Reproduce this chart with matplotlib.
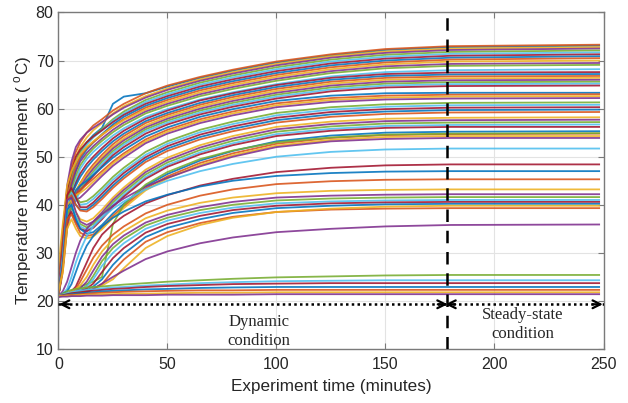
import matplotlib
matplotlib.use("Agg")
import matplotlib.pyplot as plt

# --- data (temperature in degC at each time, minutes) ---
time_min = [0, 2, 4, 6, 8, 10, 13, 16, 20, 25, 30, 40, 50, 65, 80, 100, 125, 150, 180, 248]

top_band = [
    [21, 30, 40, 46, 49, 51, 53, 54.5, 56, 61, 62.5, 63.2, 64.6, 66.4, 67.9, 69.6, 71.1, 72.2, 72.8, 73.1],
    [21, 33, 43, 48, 51, 53, 55, 56.5, 57.8, 59.6, 61, 63.2, 64.8, 66.6, 68.1, 69.8, 71.3, 72.4, 73.0, 73.3],
    [22, 32, 42, 47, 50, 52, 54, 55.5, 57, 59, 60.5, 62.6, 64.2, 66.1, 67.6, 69.3, 70.9, 71.9, 72.5, 72.8],
    [23, 34, 44, 49, 52, 53.5, 55, 56, 57.2, 58.8, 60.2, 62.3, 63.9, 65.8, 67.3, 69.0, 70.6, 71.6, 72.2, 72.5],
    [21, 30, 41, 46, 49, 51, 52.8, 54.2, 55.8, 57.8, 59.4, 61.8, 63.4, 65.4, 66.9, 68.6, 70.2, 71.2, 71.8, 72.1],
    [22, 31, 40, 45, 48, 50.5, 52.5, 54, 55.5, 57.5, 59, 61.4, 63, 65, 66.5, 68.2, 69.8, 70.8, 71.4, 71.7],
    [24, 35, 43, 47, 50, 51.5, 53, 54.2, 55.5, 57.2, 58.7, 61, 62.6, 64.6, 66.1, 67.8, 69.4, 70.4, 71.0, 71.3],
    [21, 29, 39, 44, 47, 49.5, 51.5, 53, 54.7, 56.7, 58.3, 60.6, 62.2, 64.2, 65.7, 67.4, 69.0, 70.0, 70.6, 70.9],
    [22, 32, 41, 45, 48, 50, 51.8, 53, 54.5, 56.3, 57.8, 60.2, 61.8, 63.8, 65.3, 67.0, 68.6, 69.6, 70.2, 70.5],
    [27, 36, 44, 47, 49, 50.5, 52, 53.2, 54.6, 56.2, 57.6, 59.8, 61.4, 63.4, 64.9, 66.6, 68.2, 69.2, 69.8, 70.0],
    [21, 30, 40, 44, 47, 49, 50.8, 52.2, 53.8, 55.6, 57.1, 59.4, 61.0, 63.0, 64.5, 66.2, 67.8, 68.8, 69.3, 69.5],
    [22, 31, 39, 43, 46, 48.2, 50.2, 51.7, 53.3, 55.1, 56.6, 59.0, 60.6, 62.6, 64.1, 65.8, 67.4, 68.4, 68.9, 69.1],
    [21, 29, 38, 42, 45, 47.5, 49.5, 51, 52.6, 54.4, 55.9, 58.3, 59.9, 61.9, 63.4, 65.1, 66.7, 67.6, 68.0, 68.2],
]

olive_band = [
    [21, 28, 37, 42, 44.5, 46.5, 48.5, 50, 51.8, 53.8, 55.4, 57.9, 59.6, 61.7, 63.2, 64.9, 66.4, 67.2, 67.5, 67.6],
    [22, 29, 38, 42, 44, 45.8, 47.8, 49.4, 51.2, 53.2, 54.8, 57.4, 59.1, 61.2, 62.8, 64.5, 66.0, 66.8, 67.1, 67.2],
    [21, 27, 36, 40, 42.5, 44.5, 46.7, 48.4, 50.4, 52.6, 54.3, 57.0, 58.7, 60.8, 62.4, 64.1, 65.6, 66.4, 66.7, 66.8],
    [23, 30, 38, 41, 43, 44.5, 46.3, 47.9, 49.9, 52.1, 53.8, 56.5, 58.3, 60.4, 62.0, 63.7, 65.2, 66.0, 66.3, 66.4],
    [21, 28, 36, 40, 42, 43.8, 45.8, 47.5, 49.5, 51.7, 53.4, 56.1, 57.9, 60.0, 61.6, 63.3, 64.8, 65.6, 65.9, 66.0],
    [22, 29, 37, 40, 41.5, 43.2, 45.2, 46.9, 49.0, 51.2, 52.9, 55.7, 57.5, 59.6, 61.2, 62.9, 64.4, 65.2, 65.5, 65.6],
    [21, 27, 35, 39, 41, 42.8, 44.8, 46.5, 48.5, 50.8, 52.5, 55.3, 57.1, 59.2, 60.8, 62.5, 64.0, 64.8, 65.1, 65.2],
    [21, 28, 37, 41, 42, 43, 44.5, 46, 48.0, 50.3, 52.0, 54.8, 56.7, 58.8, 60.4, 62.1, 63.6, 64.4, 64.7, 64.8],
]

red_band = [
    [21, 27, 36, 41, 43, 44, 45, 46.2, 47.8, 49.8, 51.4, 54.2, 56.1, 58.3, 59.9, 61.6, 62.7, 63.2, 63.3, 63.3],
    [21, 26, 35, 40, 42, 43, 44.2, 45.4, 47.0, 49.0, 50.7, 53.6, 55.6, 57.8, 59.4, 61.1, 62.2, 62.7, 62.9, 63.0],
    [22, 28, 37, 41, 42, 42.5, 43.5, 44.8, 46.5, 48.6, 50.3, 53.2, 55.2, 57.4, 59.0, 60.7, 61.8, 62.3, 62.5, 62.6],
    [21, 27, 36, 40, 41, 41.5, 42.8, 44.2, 46.0, 48.1, 49.8, 52.8, 54.8, 57.0, 58.6, 60.3, 61.4, 61.9, 62.1, 62.2],
]

gray_band = [
    [21, 30, 41, 43, 41.5, 40.5, 40.8, 41.8, 43.5, 45.8, 47.7, 51.0, 53.2, 55.6, 57.3, 59.1, 60.3, 60.9, 61.2, 61.3],
    [21, 29, 40, 42.5, 41, 40, 40.2, 41.2, 42.9, 45.2, 47.1, 50.4, 52.7, 55.1, 56.8, 58.6, 59.8, 60.4, 60.7, 60.8],
    [22, 31, 42, 43.5, 41.5, 39.5, 39.5, 40.5, 42.3, 44.6, 46.6, 49.9, 52.2, 54.6, 56.3, 58.1, 59.3, 59.9, 60.2, 60.3],
    [21, 28, 39, 41.5, 40, 39, 39, 40, 41.7, 44.0, 46.0, 49.4, 51.7, 54.1, 55.8, 57.6, 58.8, 59.4, 59.7, 59.8],
    [21, 30, 41, 42, 40, 38.8, 38.6, 39.5, 41.2, 43.5, 45.5, 48.9, 51.2, 53.6, 55.3, 57.1, 58.3, 58.9, 59.2, 59.3],
]

orange_band = [
    [21, 29, 40, 41, 38.5, 37, 36.5, 37.2, 39.0, 41.5, 43.6, 47.3, 49.8, 52.4, 54.3, 56.2, 57.3, 57.9, 58.1, 58.2],
    [22, 30, 41, 41.5, 38.5, 36.5, 35.8, 36.5, 38.4, 41.0, 43.1, 46.8, 49.3, 51.9, 53.8, 55.7, 56.8, 57.4, 57.6, 57.7],
    [21, 28, 38, 39.5, 37.5, 36, 35.3, 36.0, 37.9, 40.5, 42.6, 46.3, 48.8, 51.4, 53.3, 55.2, 56.3, 56.9, 57.1, 57.2],
    [21, 29, 39, 40, 37.5, 35.5, 34.8, 35.5, 37.4, 40.0, 42.1, 45.8, 48.3, 50.9, 52.8, 54.7, 55.8, 56.4, 56.6, 56.7],
    [22, 27, 37, 38.5, 36.5, 35, 34.5, 35.2, 37.0, 39.6, 41.7, 45.4, 47.9, 50.5, 52.4, 54.3, 55.4, 56.0, 56.2, 56.2],
]

blue_band = [
    [21, 28, 39, 40, 37, 35, 34, 34.3, 35.8, 38.2, 40.2, 43.9, 46.4, 49.2, 51.2, 53.2, 54.4, 55.0, 55.2, 55.3],
    [21, 27, 37, 38, 36, 34.2, 33.5, 33.8, 35.3, 37.7, 39.7, 43.4, 45.9, 48.7, 50.7, 52.7, 53.9, 54.5, 54.7, 54.8],
    [22, 26, 35, 37, 35, 33.5, 33, 33.4, 34.9, 37.3, 39.3, 43.0, 45.5, 48.3, 50.3, 52.3, 53.5, 54.1, 54.3, 54.3],
    [21, 22, 24, 27, 30, 32.5, 35, 36.5, 38.0, 39.8, 41.3, 43.8, 45.6, 48.0, 50.0, 52.0, 53.2, 53.7, 53.9, 53.9],
    [21, 21.2, 21.5, 22, 22.5, 23, 23.5, 24, 25, 36, 40, 44.2, 46.8, 49.5, 51.3, 53.0, 54.0, 54.6, 54.8, 54.9],
]

slow_band = [
    [21, 21.5, 22.5, 25, 28, 30.5, 33.5, 35.5, 37.3, 39.2, 40.7, 43.2, 45.0, 47.0, 48.5, 50.0, 51.0, 51.5, 51.7, 51.7],
    [21, 21.3, 21.5, 22, 23, 25, 28, 31, 33.8, 36.0, 37.7, 40.3, 42.0, 44.0, 45.4, 46.8, 47.7, 48.2, 48.4, 48.4],
    [21, 21.5, 22, 23.5, 26, 28.5, 31.5, 33.5, 35.5, 37.3, 38.6, 40.7, 42.1, 43.8, 45.0, 46.0, 46.6, 46.9, 47.0, 47.0],
    [21, 21.2, 21.5, 21.8, 22.5, 24, 26.5, 29, 31.5, 33.8, 35.5, 38.2, 40.0, 41.9, 43.2, 44.3, 44.9, 45.2, 45.3, 45.3],
    [21, 21.3, 21.5, 22, 22.5, 23.2, 25, 27.5, 30.3, 32.8, 34.5, 37.2, 38.8, 40.4, 41.5, 42.4, 42.9, 43.1, 43.2, 43.2],
    [21, 21.2, 21.4, 21.6, 22, 22.6, 24, 26.3, 29.2, 31.8, 33.6, 36.3, 37.9, 39.5, 40.6, 41.5, 41.9, 42.1, 42.2, 42.2],
    [21, 21.1, 21.2, 21.5, 21.8, 22.2, 23.2, 25.2, 28.3, 31.0, 32.9, 35.7, 37.3, 38.9, 40.0, 40.9, 41.3, 41.5, 41.6, 41.6],
    [21, 21.2, 21.4, 21.6, 21.9, 22.3, 23, 24.5, 27.3, 30.0, 32.0, 35.0, 36.7, 38.3, 39.4, 40.3, 40.7, 40.9, 41.0, 41.0],
    [21, 21.1, 21.3, 21.5, 21.7, 22, 22.6, 23.6, 26.0, 28.9, 31.0, 34.2, 36.0, 37.7, 38.9, 39.8, 40.3, 40.5, 40.6, 40.6],
    [21, 21.2, 21.3, 21.5, 21.6, 21.8, 22.2, 23, 24.5, 27.5, 29.8, 33.3, 35.2, 37.0, 38.3, 39.3, 39.8, 40.1, 40.2, 40.2],
    [21, 21.1, 21.2, 21.3, 21.5, 21.7, 22, 22.5, 23.5, 26.2, 28.6, 32.3, 34.3, 36.2, 37.5, 38.5, 39.0, 39.2, 39.3, 39.3],
    [21, 21.1, 21.2, 21.4, 21.6, 21.8, 22.1, 22.6, 23.2, 24.5, 26.8, 31.0, 33.5, 35.8, 37.3, 38.5, 39.2, 39.6, 39.8, 39.8],
    [21, 21.1, 21.2, 21.3, 21.4, 21.5, 21.8, 22.5, 23.6, 25.0, 26.3, 28.7, 30.3, 32.0, 33.2, 34.3, 35.0, 35.5, 35.8, 35.9],
]

low_band = [
    [21, 21.5, 22, 22.3, 22.5, 22.6, 22.8, 22.9, 23.0, 23.2, 23.4, 23.7, 24.0, 24.3, 24.6, 24.9, 25.1, 25.3, 25.4, 25.4],
    [21, 21.3, 21.6, 21.8, 22.0, 22.1, 22.3, 22.4, 22.6, 22.8, 22.9, 23.2, 23.4, 23.7, 23.9, 24.1, 24.2, 24.3, 24.3, 24.3],
    [21, 21.2, 21.4, 21.6, 21.7, 21.8, 22.0, 22.1, 22.3, 22.5, 22.6, 22.9, 23.1, 23.3, 23.5, 23.6, 23.7, 23.7, 23.7, 23.7],
    [21, 21.1, 21.3, 21.4, 21.5, 21.6, 21.7, 21.8, 22.0, 22.1, 22.2, 22.4, 22.5, 22.7, 22.8, 22.9, 22.9, 22.9, 22.9, 22.9],
    [21, 21.1, 21.2, 21.3, 21.3, 21.4, 21.5, 21.6, 21.7, 21.8, 21.9, 22.0, 22.1, 22.2, 22.2, 22.3, 22.3, 22.3, 22.3, 22.3],
    [21, 21.0, 21.1, 21.1, 21.2, 21.2, 21.3, 21.3, 21.4, 21.4, 21.5, 21.5, 21.6, 21.7, 21.7, 21.8, 21.8, 21.8, 21.8, 21.8],
    [20.8, 20.9, 20.9, 21.0, 21.0, 21.0, 21.1, 21.1, 21.1, 21.2, 21.2, 21.2, 21.3, 21.3, 21.3, 21.4, 21.4, 21.4, 21.4, 21.4],
]

split_time = 178
arrow_level = 19.3

# matlab default line colours
matlab_colors = ['#0072BD', '#D95319', '#EDB120', '#7E2F8E', '#77AC30', '#4DBEEE', '#A2142F']

plt.rcParams['font.family'] = ['Liberation Sans', 'DejaVu Sans']
plt.rcParams['mathtext.fontset'] = 'custom'
plt.rcParams['mathtext.rm'] = 'Liberation Sans'

fig = plt.figure(figsize=(6.28, 4.03), dpi=100)
ax = fig.add_axes([0.093, 0.134, 0.868, 0.835])

all_curves = top_band + olive_band + red_band + gray_band + orange_band + blue_band + slow_band + low_band
for i, curve in enumerate(all_curves):
    ax.plot(time_min, curve, color=matlab_colors[i % len(matlab_colors)], lw=1.3, alpha=0.88)

ax.set_xlim(0, 250)
ax.set_ylim(10, 80)
ax.set_xticks([0, 50, 100, 150, 200, 250])
ax.set_yticks([10, 20, 30, 40, 50, 60, 70, 80])
ax.grid(True, color='#e3e3e3', lw=0.8)
ax.set_axisbelow(True)
ax.tick_params(direction='in', top=True, right=True, length=4, labelsize=11.5,
               colors='#7a7a7a', labelcolor='#262626')
ax.tick_params(axis='x', pad=6)
for s in ax.spines.values():
    s.set_color('#7a7a7a')
    s.set_linewidth(1.0)

ax.set_xlabel('Experiment time (minutes)', fontsize=12.3, color='#262626', labelpad=5)
ax.set_ylabel('Temperature measurement ( $^{\\mathrm{o}}$C)', fontsize=12.3, color='#262626', labelpad=1)

# phase split
ax.axvline(split_time, color='k', lw=1.8, ls=(0, (5, 3.5)), zorder=5)

# dotted double arrows
ax.plot([0, split_time], [arrow_level, arrow_level], color='k', lw=1.8, ls=(0, (1, 1.3)), zorder=5)
ax.plot([split_time, 250], [arrow_level, arrow_level], color='k', lw=1.8, ls=(0, (1, 1.3)), zorder=5)
head = dict(arrowstyle='->', color='k', lw=1.6, mutation_scale=14, shrinkA=0, shrinkB=0)
ax.annotate('', xy=(0.3, arrow_level), xytext=(5, arrow_level), arrowprops=head, zorder=6)
ax.annotate('', xy=(split_time + 0.5, arrow_level), xytext=(split_time - 4, arrow_level), arrowprops=head, zorder=6)
ax.annotate('', xy=(split_time - 0.5, arrow_level), xytext=(split_time + 4, arrow_level), arrowprops=head, zorder=6)
ax.annotate('', xy=(249.7, arrow_level), xytext=(245, arrow_level), arrowprops=head, zorder=6)

ax.text(92, 13.7, 'Dynamic\ncondition', ha='center', va='center', fontsize=12,
        family=['Liberation Serif'], color='#262626', linespacing=1.25)
ax.text(213, 15.2, 'Steady-state\ncondition', ha='center', va='center', fontsize=12,
        family=['Liberation Serif'], color='#262626', linespacing=1.25)

fig.savefig('out.png', dpi=100)
